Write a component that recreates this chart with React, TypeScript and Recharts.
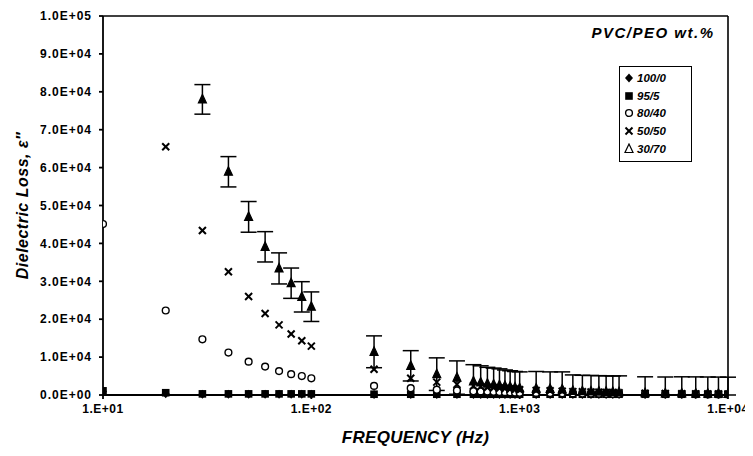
import React from 'react'
import {ScatterChart, Scatter, XAxis, YAxis, ErrorBar, ReferenceLine, Legend, Label} from 'recharts'

// frequencies (Hz) of the measurement points
const frequencies = [
  10, 20, 30, 40, 50, 60, 70, 80, 90, 100,
  200, 300, 400, 500,
  600, 650, 700, 750, 800, 850, 900, 950, 1000,
  1200, 1400, 1600, 1800, 2000, 2200, 2400, 2600, 2800, 3000,
  4000, 5000, 6000, 7000, 8000, 9000, 10000
]

// dielectric loss per blend (PVC/PEO wt.%)
const loss100_0 = [
  900, 300, 200, 200, 200, 200, 200, 200, 200, 200,
  150, 150, 150, 150,
  150, 150, 150, 150, 150, 150, 150, 150, 150,
  150, 150, 150, 150, 150, 150, 150, 150, 150, 150,
  150, 150, 150, 150, 150, 150, 150
]
const loss95_5 = [
  1100, 600, 300, 300, 300, 300, 300, 300, 300, 300,
  200, 200, 200, 200,
  200, 200, 200, 200, 200, 200, 200, 200, 200,
  200, 200, 200, 200, 200, 200, 200, 200, 200, 200,
  200, 200, 200, 200, 200, 200, 200
]
const loss80_40 = [
  45100, 22300, 14700, 11200, 8800, 7500, 6300, 5500, 5000, 4400,
  2400, 1800, 1400, 1200,
  1000, 950, 900, 850, 800, 750, 700, 650, 600,
  550, 500, 450, 420, 400, 380, 360, 340, 320, 300,
  250, 220, 200, 180, 160, 150, 140
]
const loss50_50 = [
  null, 65500, 43400, 32500, 26000, 21500, 18500, 16100, 14300, 12900,
  6800, 4400, 3400, 2800,
  2400, 2200, 2000, 1900, 1800, 1700, 1600, 1500, 1400,
  1200, 1100, 1000, 900, 850, 800, 750, 700, 650, 600,
  450, 380, 330, 300, 270, 250, 230
]
const loss30_70 = [
  null, null, 78000, 58900, 47000, 39100, 33400, 29500, 25900, 23300,
  11400, 7700, 5500, 4600,
  3600, 3300, 3000, 2800, 2600, 2400, 2200, 2000, 1800,
  1700, 1600, 1500, 1100, 1000, 950, 900, 850, 800, 750,
  500, 450, 400, 380, 350, 330, 300
]
const err30_70 = [
  null, null, 3900, 4000, 4050, 4000, 4100, 4000, 4000, 3900,
  4200, 4000, 4300, 4400,
  4400, 4400, 4300, 4300, 4300, 4200, 4200, 4200, 4300,
  4500, 4500, 4600, 4200, 4200, 4200, 4200, 4200, 4200, 4300,
  4300, 4300, 4400, 4400, 4400, 4400, 4400
]

const xTicks = [10, 100, 1000, 10000]
const yTicks = [0, 10000, 20000, 30000, 40000, 50000, 60000, 70000, 80000, 90000, 100000]

type Kind = 'diamond' | 'square' | 'circle' | 'x' | 'triangle'

const series: {name: string; kind: Kind; values: (number | null)[]; errors?: (number | null)[]}[] = [
  {name: '100/0', kind: 'diamond', values: loss100_0},
  {name: '95/5', kind: 'square', values: loss95_5},
  {name: '80/40', kind: 'circle', values: loss80_40},
  {name: '50/50', kind: 'x', values: loss50_50},
  {name: '30/70', kind: 'triangle', values: loss30_70, errors: err30_70}
]

const toPoints = (values: (number | null)[], errors?: (number | null)[]) =>
  frequencies
    .map((f, i) => ({
      x: f,
      y: values[i],
      // lower arm stops at zero, as in the original plot
      e: errors && errors[i] != null && values[i] != null ? [Math.min(errors[i] as number, values[i] as number), errors[i]] : undefined
    }))
    .filter(p => p.y != null)

const FONT = '"Liberation Sans", Arial, sans-serif'

const Marker = ({kind, cx, cy, hollow}: {kind: Kind; cx: number; cy: number; hollow?: boolean}) => {
  if (cx == null || cy == null) return null
  switch (kind) {
    case 'diamond':
      return <polygon points={`${cx},${cy - 4.5} ${cx + 4},${cy} ${cx},${cy + 4.5} ${cx - 4},${cy}`} fill='#000' />
    case 'square':
      return <rect x={cx - 3.8} y={cy - 3.8} width={7.6} height={7.6} fill='#000' />
    case 'circle':
      return <circle cx={cx} cy={cy} r={3.4} fill='#fff' stroke='#000' strokeWidth={1.4} />
    case 'x':
      return (
        <g stroke='#000' strokeWidth={2}>
          <line x1={cx - 3.5} y1={cy - 3.5} x2={cx + 3.5} y2={cy + 3.5} />
          <line x1={cx - 3.5} y1={cy + 3.5} x2={cx + 3.5} y2={cy - 3.5} />
        </g>
      )
    case 'triangle':
      return (
        <polygon
          points={`${cx},${cy - 5} ${cx + 4},${cy + 3.5} ${cx - 4},${cy + 3.5}`}
          fill={hollow ? '#fff' : '#000'}
          stroke='#000'
          strokeWidth={1.2}
        />
      )
  }
  return null
}

const formatX = (v: number) => `1.E+${String(Math.round(Math.log10(v))).padStart(2, '0')}`
const formatY = (v: number) => {
  if (v === 0) return '0.0E+00'
  const exp = Math.floor(Math.log10(v) + 1e-9)
  return `${(v / Math.pow(10, exp)).toFixed(1)}E+${String(exp).padStart(2, '0')}`
}

const yTickStyle = {fill: '#000', fontSize: 12, fontWeight: 700, fontFamily: FONT, letterSpacing: 1}
const xTickStyle = {fill: '#000', fontSize: 12, fontWeight: 700, fontFamily: FONT, letterSpacing: 0.5}

const renderLegend = () => (
  <div style={{fontFamily: FONT, color: '#000'}}>
    <div style={{fontSize: 15, fontWeight: 700, fontStyle: 'italic', letterSpacing: 1.5, textAlign: 'center', lineHeight: '18px'}}>
      PVC/PEO wt.%
    </div>
    <div style={{marginTop: 24, marginLeft: 36, width: 71, border: '1px solid #000', padding: '2px 0 3px 0'}}>
      {series.map(s => (
        <div key={s.name} style={{display: 'flex', alignItems: 'center', height: 17.8}}>
          <svg width={14} height={12} style={{marginLeft: 2}}>
            <Marker kind={s.kind} cx={7} cy={6} hollow />
          </svg>
          <span style={{fontSize: 11.5, fontWeight: 700, fontStyle: 'italic', marginLeft: 1}}>{s.name}</span>
        </div>
      ))}
    </div>
  </div>
)

export default function App() {
  return (
    <div style={{marginLeft: -8, width: 753}}>
      <ScatterChart width={753} height={440} margin={{top: 8, right: 25, bottom: 23, left: 18}}>
        <XAxis
          dataKey='x'
          type='number'
          scale='log'
          domain={[10, 10000]}
          ticks={xTicks}
          tickFormatter={formatX}
          tick={xTickStyle}
          stroke='#000'
          strokeWidth={1.8}
          tickSize={4}
          tickMargin={5}
          height={30}
          allowDataOverflow
        >
          <Label
            value='FREQUENCY (Hz)'
            position='bottom'
            offset={6}
            style={{fill: '#000', fontSize: 17, fontWeight: 700, fontStyle: 'italic', fontFamily: FONT, letterSpacing: 0.3}}
          />
        </XAxis>
        <YAxis
          dataKey='y'
          type='number'
          domain={[0, 100000]}
          ticks={yTicks}
          tickFormatter={formatY}
          tick={yTickStyle}
          stroke='#000'
          strokeWidth={1.8}
          tickSize={4}
          tickMargin={7}
          width={85}
          interval={0}
        >
          <Label
            value={'Dielectric Loss,  \u03b5\u2033'}
            angle={-90}
            position='insideLeft'
            offset={4}
            style={{textAnchor: 'middle', fill: '#000', fontSize: 16, fontWeight: 700, fontStyle: 'italic', fontFamily: FONT, letterSpacing: 0.5}}
          />
        </YAxis>
        <ReferenceLine y={100000} stroke='#000' strokeWidth={1.6} />
        <ReferenceLine x={10000} stroke='#000' strokeWidth={1.6} />
        <Legend
          layout='vertical'
          align='center'
          verticalAlign='middle'
          content={renderLegend}
          wrapperStyle={{left: 583, top: 16, width: 140, height: 'auto'}}
        />
        {series.map(s => (
          <Scatter
            key={s.name}
            name={s.name}
            data={toPoints(s.values, s.errors)}
            isAnimationActive={false}
            shape={(p: any) => <Marker kind={s.kind} cx={p.cx} cy={p.cy} />}
          >
            {s.errors && <ErrorBar dataKey='e' direction='y' width={8} stroke='#000' strokeWidth={1.5} />}
          </Scatter>
        ))}
      </ScatterChart>
    </div>
  )
}
